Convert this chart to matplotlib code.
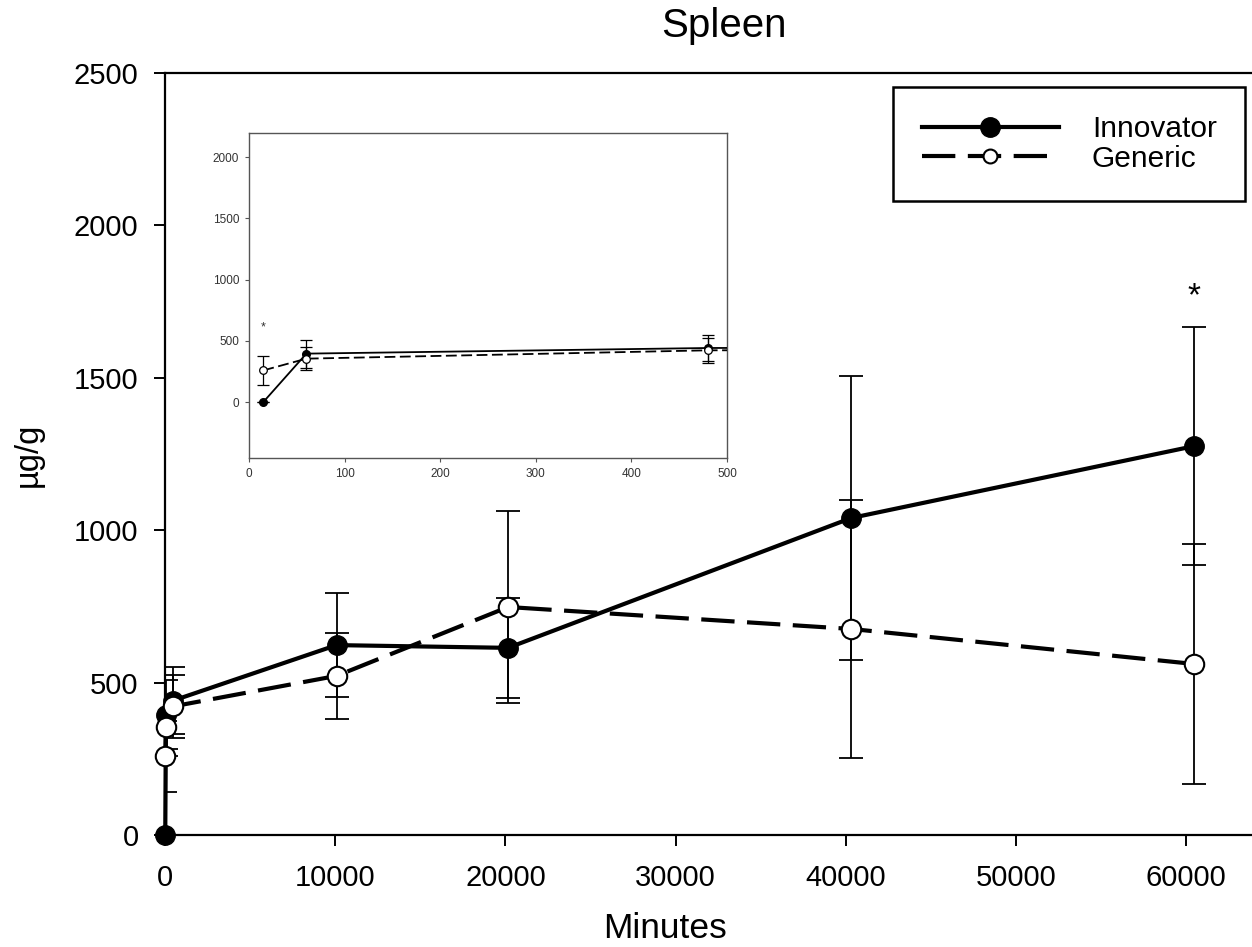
import numpy as np
import matplotlib
matplotlib.use("Agg")
import matplotlib.pyplot as plt

plt.rcParams['font.family'] = ['Liberation Sans', 'DejaVu Sans']

# 时间（分钟）
minutes = [15, 60, 480, 10080, 20160, 40320, 60480]
# Innovator 均值与误差
innov = [0, 395, 441, 623, 614, 1040, 1276]
innov_err = [0, 114, 109, 171, 164, 466, 391]
# Generic 均值与误差
gener = [258, 354, 422, 522, 748, 676, 561]
gener_err = [116, 95, 103, 141, 315, 422, 394]

# 显著性标记
star_main = (60480, 1765)
star_inset = (15, 612)

fig = plt.figure(figsize=(12.52, 9.47), dpi=100)
ax = fig.add_axes([165/1252, 112/947, 1087/1252, 762/947])


def draw(a, lw, ms, elw, cap, mew, dash, clip):
    a.errorbar(minutes, innov, yerr=innov_err, fmt='none', ecolor='black',
               elinewidth=elw, capsize=cap, capthick=elw, zorder=2)
    a.errorbar(minutes, gener, yerr=gener_err, fmt='none', ecolor='black',
               elinewidth=elw, capsize=cap, capthick=elw, zorder=2)
    a.plot(minutes, innov, '-', color='black', lw=lw, marker='o', ms=ms,
           mfc='black', mec='black', zorder=3, label='Innovator',
           clip_on=clip)
    a.plot(minutes, gener, color='black', lw=lw, dashes=dash, marker='o',
           ms=ms, mfc='white', mec='black', mew=mew, zorder=4,
           label='Generic', clip_on=clip)


# 主图
draw(ax, 3.0, 14, 1.3, 8.5, 1.5, (8, 3), False)
ax.set_xlim(0, 63870)
ax.set_ylim(0, 2500)
ax.set_xticks(np.arange(0, 60001, 10000))
ax.set_yticks(np.arange(0, 2501, 500))
ax.spines['right'].set_visible(False)
for s in ['left', 'bottom', 'top']:
    ax.spines[s].set_linewidth(1.6)
ax.tick_params(direction='out', length=8, width=1.4, labelsize=21)
ax.tick_params(axis='x', pad=13)
ax.tick_params(axis='y', pad=11)
ax.text(star_main[0], star_main[1], '*', fontsize=24, ha='center',
        va='center')

fig.text(724/1252, 1 - 37/947, 'Spleen', fontsize=29, ha='center',
         va='baseline')
fig.text(665/1252, 1 - 938/947, 'Minutes', fontsize=25.5, ha='center',
         va='baseline')
fig.text(28/1252, 1 - 455/947, 'µg/g', fontsize=23.5, ha='center',
         va='center', rotation=90)

leg = ax.legend(loc='upper right', bbox_to_anchor=(1.0 - 7/1087, 1.0 - 14/762),
                fontsize=21.5, handlelength=4.6, frameon=True, fancybox=False,
                borderpad=0.95, labelspacing=0.05, handletextpad=1.1,
                borderaxespad=0)
leg.get_frame().set_edgecolor('black')
leg.get_frame().set_linewidth(1.8)
leg.get_frame().set_alpha(1)
leg.legend_handles[1].set_markersize(10)

# 插图（0-500 分钟）
ins = fig.add_axes([249/1252, (947-458)/947, 478/1252, 325/947])
draw(ins, 1.3, 5.5, 0.9, 4, 0.9, (6, 2.5), True)
ins.set_xlim(0, 500)
ins.set_ylim(-457, 2196)
ins.set_xticks(np.arange(0, 501, 100))
ins.set_yticks(np.arange(0, 2001, 500))
for s in ins.spines.values():
    s.set_color('#555555')
    s.set_linewidth(1.0)
ins.tick_params(direction='out', length=3, width=0.8, labelsize=8.5,
                colors='#555555', labelcolor='#333333', pad=4)
ins.text(star_inset[0], star_inset[1], '*', fontsize=9, ha='center',
         va='center', color='#333333')

fig.savefig('out.png', dpi=100)
